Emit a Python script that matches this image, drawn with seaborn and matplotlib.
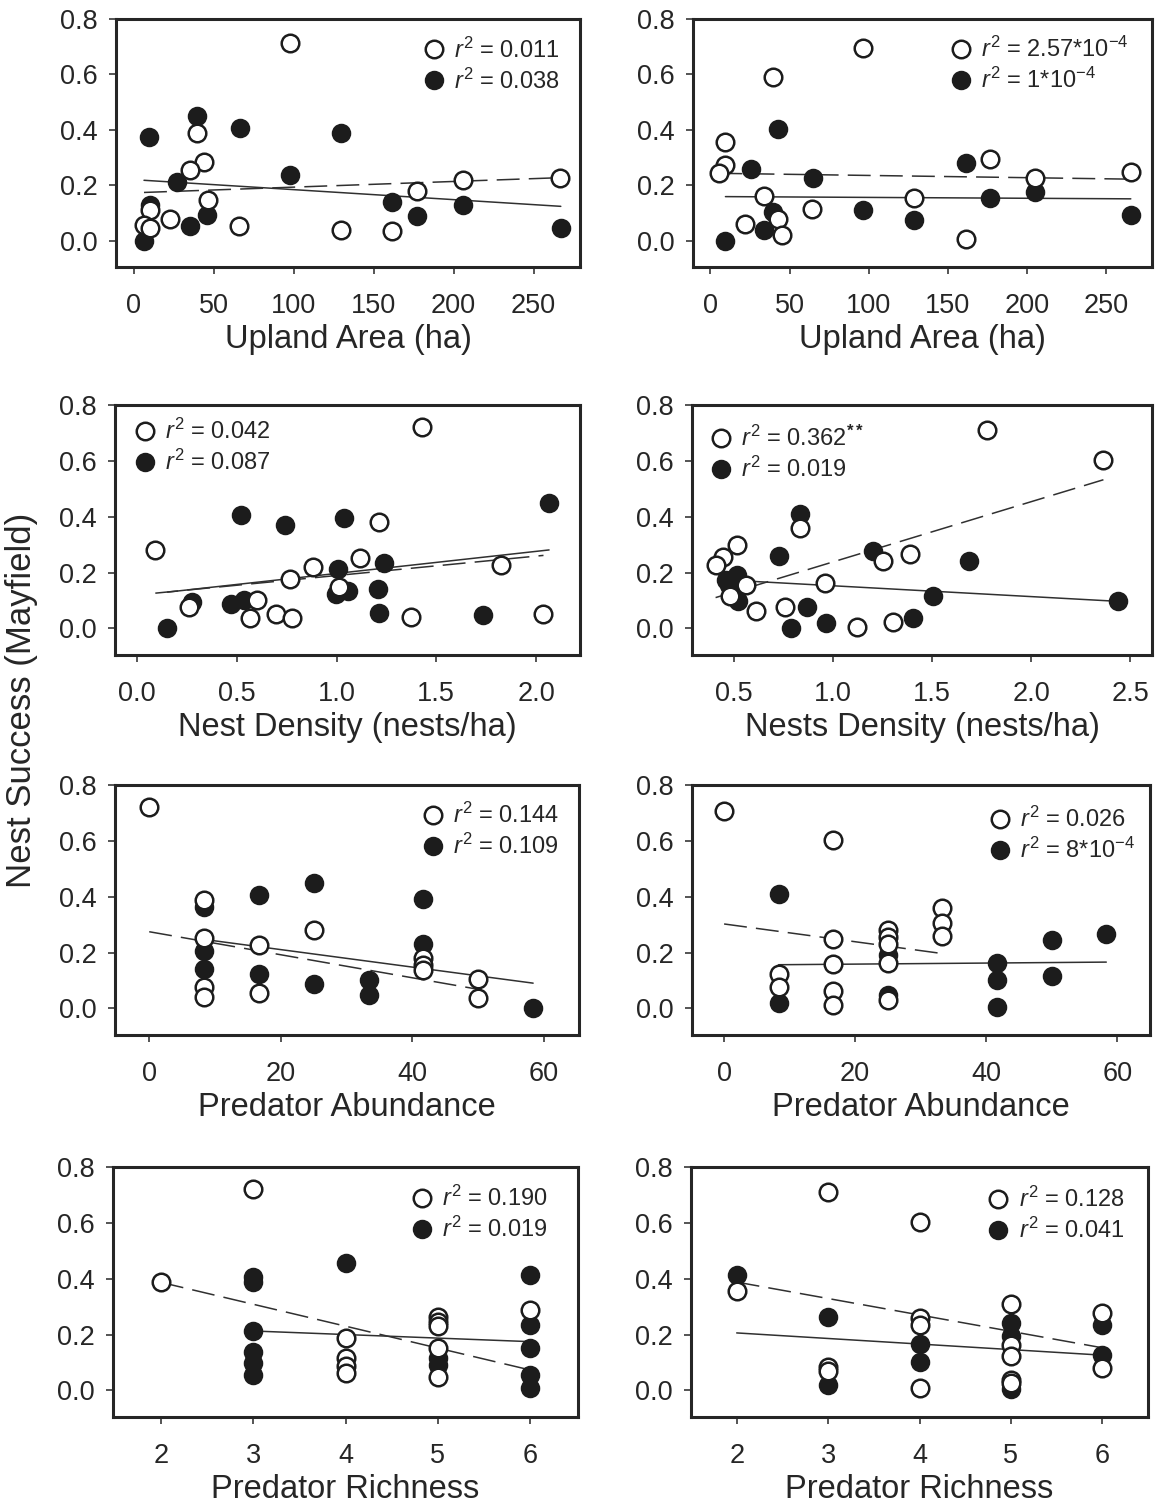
import numpy as np
import pandas as pd
import matplotlib
matplotlib.use("Agg")
import matplotlib.pyplot as plt
import seaborn as sns
from matplotlib.lines import Line2D

# ---------------- data ----------------
# Panel 1: Upland area, left column
p1_open_x = [97.5, 39.8, 44.0, 35.2, 46.5, 10.2, 6.5, 10.2, 22.7, 65.8, 129.8, 161.7, 177.3, 206.0, 266.5]
p1_open_y = [0.715, 0.388, 0.285, 0.255, 0.146, 0.112, 0.055, 0.045, 0.079, 0.052, 0.039, 0.035, 0.178, 0.219, 0.226]
p1_fill_x = [9.6, 39.8, 66.5, 129.8, 97.5, 26.9, 10.2, 46.0, 35.2, 6.5, 161.7, 177.3, 206.0, 267.0]
p1_fill_y = [0.373, 0.450, 0.406, 0.390, 0.236, 0.212, 0.130, 0.093, 0.052, 0.000, 0.138, 0.088, 0.129, 0.045]
p1_fit_open = [0.1727, 0.000205]      # intercept, slope
p1_fit_fill = [0.2203, -0.000361]
p1_r2 = ["$r^2$ = 0.011", "$r^2$ = 0.038"]

# Panel 2: Upland area, right column
p2_open_x = [96.2, 39.3, 9.5, 9.5, 5.7, 34.1, 21.9, 42.9, 45.0, 63.9, 128.8, 161.4, 176.8, 205.2, 265.6]
p2_open_y = [0.696, 0.592, 0.356, 0.273, 0.243, 0.162, 0.059, 0.079, 0.022, 0.115, 0.153, 0.006, 0.295, 0.225, 0.248]
p2_fill_x = [42.9, 25.7, 64.6, 161.4, 176.8, 205.2, 96.2, 128.8, 39.3, 34.1, 9.5, 265.6]
p2_fill_y = [0.402, 0.260, 0.225, 0.279, 0.153, 0.177, 0.112, 0.073, 0.103, 0.038, 0.000, 0.094]
p2_fit_open = [0.2435, -0.0000808]
p2_fit_fill = [0.1593, -0.0000313]
p2_r2 = ["$r^2$ = 2.57*10$^{-4}$", "$r^2$ = 1*10$^{-4}$"]

# Panel 3: Nest density, left column
p3_open_x = [1.427, 0.092, 1.212, 1.118, 0.882, 0.765, 1.823, 1.010, 0.603, 0.262, 0.568, 0.695, 0.778, 1.373, 2.037]
p3_open_y = [0.720, 0.281, 0.382, 0.253, 0.220, 0.178, 0.227, 0.147, 0.103, 0.078, 0.039, 0.051, 0.036, 0.042, 0.052]
p3_fill_x = [2.065, 0.520, 1.037, 0.743, 1.240, 1.007, 1.207, 1.057, 0.998, 0.535, 0.473, 0.278, 0.153, 1.212, 1.732]
p3_fill_y = [0.448, 0.406, 0.394, 0.370, 0.233, 0.213, 0.142, 0.133, 0.123, 0.103, 0.088, 0.093, 0.000, 0.054, 0.048]
p3_fit_open = [0.120, 0.0695]
p3_fit_fill = [0.118, 0.079]
p3_r2 = ["$r^2$ = 0.042", "$r^2$ = 0.087"]

# Panel 4: Nest density, right column
p4_open_x = [1.780, 2.365, 0.837, 0.519, 0.448, 0.409, 1.391, 1.254, 0.960, 0.560, 0.481, 0.614, 0.757, 1.123, 1.304]
p4_open_y = [0.711, 0.603, 0.358, 0.300, 0.255, 0.228, 0.267, 0.242, 0.163, 0.155, 0.116, 0.062, 0.076, 0.006, 0.024]
p4_fill_x = [0.834, 0.728, 1.201, 1.685, 0.515, 0.476, 0.522, 0.871, 1.506, 1.403, 0.967, 0.790, 2.440, 0.460]
p4_fill_y = [0.411, 0.261, 0.278, 0.240, 0.191, 0.157, 0.097, 0.076, 0.116, 0.037, 0.018, 0.000, 0.097, 0.175]
p4_fit_open = [0.0223, 0.2157]
p4_fit_fill = [0.1917, -0.0388]
p4_r2 = ["$r^2$ = 0.362$^{\\mathbf{**}}$", "$r^2$ = 0.019"]

# Panel 5: Predator abundance, left column
p5_open_x = [0, 8.33, 8.33, 8.33, 8.33, 16.67, 16.67, 25, 41.67, 41.67, 41.67, 50, 50]
p5_open_y = [0.720, 0.388, 0.253, 0.078, 0.042, 0.227, 0.054, 0.281, 0.180, 0.155, 0.139, 0.106, 0.039]
p5_fill_x = [8.33, 8.33, 8.33, 16.67, 16.67, 25, 25, 33.33, 33.33, 41.67, 41.67, 58.33]
p5_fill_y = [0.365, 0.205, 0.140, 0.407, 0.123, 0.448, 0.088, 0.103, 0.048, 0.392, 0.231, 0.002]
p5_fit_open = [0.2747, -0.004124]
p5_fit_fill = [0.2733, -0.003132]
p5_r2 = ["$r^2$ = 0.144", "$r^2$ = 0.109"]

# Panel 6: Predator abundance, right column
p6_open_x = [0, 8.33, 8.33, 16.67, 16.67, 16.67, 16.67, 16.67, 25, 25, 25, 25, 25, 33.33, 33.33, 33.33]
p6_open_y = [0.708, 0.122, 0.078, 0.602, 0.247, 0.158, 0.064, 0.013, 0.280, 0.255, 0.230, 0.164, 0.030, 0.361, 0.305, 0.259]
p6_fill_x = [8.33, 8.33, 25, 25, 41.67, 41.67, 41.67, 50, 50, 58.33]
p6_fill_y = [0.411, 0.019, 0.190, 0.048, 0.164, 0.102, 0.004, 0.245, 0.118, 0.266]
p6_fit_open = [0.3025, -0.00318]
p6_fit_fill = [0.155, 0.000188]
p6_r2 = ["$r^2$ = 0.026", "$r^2$ = 8*10$^{-4}$"]

# Panel 7: Predator richness, left column
p7_open_x = [2, 3, 4, 4, 4, 4, 5, 5, 5, 5, 5, 6]
p7_open_y = [0.387, 0.722, 0.187, 0.115, 0.086, 0.062, 0.264, 0.245, 0.229, 0.151, 0.048, 0.288]
p7_fill_x = [3, 3, 3, 3, 3, 3, 4, 5, 5, 6, 6, 6, 6, 6]
p7_fill_y = [0.407, 0.390, 0.213, 0.139, 0.098, 0.056, 0.455, 0.115, 0.090, 0.415, 0.234, 0.151, 0.056, 0.008]
p7_fit_open = [0.5438, -0.0784]
p7_fit_fill = [0.251, -0.0127]
p7_r2 = ["$r^2$ = 0.190", "$r^2$ = 0.019"]

# Panel 8: Predator richness, right column
p8_open_x = [2, 3, 3, 3, 4, 4, 4, 4, 5, 5, 5, 5, 5, 6, 6]
p8_open_y = [0.356, 0.711, 0.083, 0.068, 0.604, 0.260, 0.234, 0.009, 0.308, 0.162, 0.123, 0.037, 0.025, 0.276, 0.081]
p8_fill_x = [2, 3, 3, 4, 4, 5, 5, 5, 6, 6]
p8_fill_y = [0.413, 0.264, 0.018, 0.165, 0.102, 0.242, 0.194, 0.004, 0.234, 0.126]
p8_fit_open = [0.5056, -0.0588]
p8_fit_fill = [0.2458, -0.0199]
p8_r2 = ["$r^2$ = 0.128", "$r^2$ = 0.041"]

y_ticks = [0.0, 0.2, 0.4, 0.6, 0.8]
y_label = "Nest Success (Mayfield)"
x_labels = ["Upland Area (ha)", "Upland Area (ha)",
            "Nest Density (nests/ha)", "Nests Density (nests/ha)",
            "Predator Abundance", "Predator Abundance",
            "Predator Richness", "Predator Richness"]
x_ticks = [[0, 50, 100, 150, 200, 250], [0, 50, 100, 150, 200, 250],
           [0.0, 0.5, 1.0, 1.5, 2.0], [0.5, 1.0, 1.5, 2.0, 2.5],
           [0, 20, 40, 60], [0, 20, 40, 60],
           [2, 3, 4, 5, 6], [2, 3, 4, 5, 6]]

# ---------------- style ----------------
sns.set_style("ticks")
INK = "#262626"
plt.rcParams['font.family'] = ['Liberation Sans', 'DejaVu Sans']
plt.rcParams['mathtext.fontset'] = 'custom'
plt.rcParams['mathtext.rm'] = 'Liberation Sans'
plt.rcParams['mathtext.it'] = 'Liberation Sans:italic'
plt.rcParams['mathtext.bf'] = 'Liberation Sans:bold'
for k in ['text.color', 'axes.labelcolor', 'xtick.color', 'ytick.color', 'axes.edgecolor']:
    plt.rcParams[k] = INK

W, H = 1158, 1507
fig = plt.figure(figsize=(W / 100, H / 100), dpi=100)
fig.patch.set_facecolor("white")


def rect(l, t, w, h):
    return [l / W, 1 - (t + h) / H, w / W, h / H]


layout = [
    dict(pos=rect(116, 19, 464, 248), xlim=(-11, 279), fmt="{:.0f}", leg=(0.660, 0.926)),
    dict(pos=rect(693, 19, 459, 248), xlim=(-11, 279), fmt="{:.0f}", leg=(0.558, 0.928)),
    dict(pos=rect(115, 405, 465, 250), xlim=(-0.11, 2.22), fmt="{:.1f}", leg=(0.040, 0.944)),
    dict(pos=rect(692, 405, 460, 250), xlim=(0.29, 2.61), fmt="{:.1f}", leg=(0.037, 0.916)),
    dict(pos=rect(115, 785, 464, 250), xlim=(-5.2, 65.3), fmt="{:.0f}", leg=(0.660, 0.928)),
    dict(pos=rect(692, 785, 458, 250), xlim=(-4.9, 65.0), fmt="{:.0f}", leg=(0.647, 0.912)),
    dict(pos=rect(113, 1167, 465, 250), xlim=(1.48, 6.52), fmt="{:.0f}", leg=(0.640, 0.924)),
    dict(pos=rect(691, 1167, 457, 250), xlim=(1.5, 6.5), fmt="{:.0f}", leg=(0.647, 0.920)),
]

panels = [
    (p1_open_x, p1_open_y, p1_fill_x, p1_fill_y, p1_fit_open, p1_fit_fill, p1_r2),
    (p2_open_x, p2_open_y, p2_fill_x, p2_fill_y, p2_fit_open, p2_fit_fill, p2_r2),
    (p3_open_x, p3_open_y, p3_fill_x, p3_fill_y, p3_fit_open, p3_fit_fill, p3_r2),
    (p4_open_x, p4_open_y, p4_fill_x, p4_fill_y, p4_fit_open, p4_fit_fill, p4_r2),
    (p5_open_x, p5_open_y, p5_fill_x, p5_fill_y, p5_fit_open, p5_fit_fill, p5_r2),
    (p6_open_x, p6_open_y, p6_fill_x, p6_fill_y, p6_fit_open, p6_fit_fill, p6_r2),
    (p7_open_x, p7_open_y, p7_fill_x, p7_fill_y, p7_fit_open, p7_fit_fill, p7_r2),
    (p8_open_x, p8_open_y, p8_fill_x, p8_fill_y, p8_fit_open, p8_fit_fill, p8_r2),
]

DASH = (0, (15, 6))
MS = 160

for i, (ox, oy, fx, fy, fo, ff, r2) in enumerate(panels):
    lay = layout[i]
    ax = fig.add_axes(lay["pos"])

    # fitted regression lines, spanning each group's x range
    for xs, fit, ls in [(ox, fo, DASH), (fx, ff, "-")]:
        xr = np.array([min(xs), max(xs)], dtype=float)
        line_df = pd.DataFrame({"x": xr, "y": fit[0] + fit[1] * xr})
        sns.lineplot(data=line_df, x="x", y="y", ax=ax, color="#303030",
                     linewidth=1.1, linestyle=ls, zorder=2)

    sns.scatterplot(x=fx, y=fy, ax=ax, s=MS, color="#1c1c1c",
                    edgecolor="#1c1c1c", linewidth=1.4, zorder=3)
    sns.scatterplot(x=ox, y=oy, ax=ax, s=MS, color="white",
                    edgecolor="#1c1c1c", linewidth=1.8, zorder=4)

    ax.set_xlim(*lay["xlim"])
    ax.set_ylim(-0.095, 0.80)
    ax.set_yticks(y_ticks)
    ax.set_yticklabels([f"{v:.1f}" for v in y_ticks])
    ax.set_xticks(x_ticks[i])
    ax.set_xticklabels([lay["fmt"].format(v) for v in x_ticks[i]])
    ax.set_xlabel(x_labels[i], fontsize=23.5, labelpad=3)
    ax.set_ylabel("")

    for sp in ax.spines.values():
        sp.set_linewidth(2.2)
        sp.set_color(INK)
    ax.tick_params(axis="both", direction="out", length=5, width=1.1,
                   labelsize=19.5, top=False, right=False)
    ax.tick_params(axis="x", pad=14)
    ax.tick_params(axis="y", pad=8)

    handles = [
        Line2D([], [], marker="o", ls="", mfc="white", mec="#1c1c1c", ms=12.6, mew=1.8),
        Line2D([], [], marker="o", ls="", mfc="#1c1c1c", mec="#1c1c1c", ms=12.6, mew=1.4),
    ]
    ax.legend(handles, r2, loc="upper left", bbox_to_anchor=lay["leg"],
              frameon=False, fontsize=17, borderpad=0, borderaxespad=0,
              handlelength=1.0, handletextpad=0.35, labelspacing=0.25)

fig.text(22 / W, 1 - 700 / H, y_label, rotation=90, fontsize=25,
         ha="center", va="center", color=INK)

fig.savefig("out.png", dpi=100, facecolor="white")
